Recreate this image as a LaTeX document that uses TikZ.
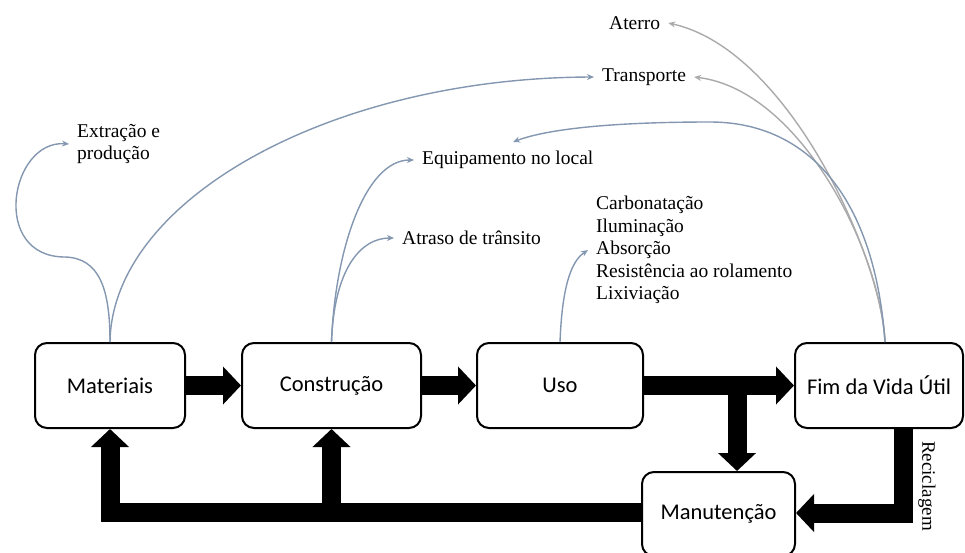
\documentclass[tikz,border=0pt]{standalone}
\usepackage{fontspec}
\setmainfont{Liberation Serif}
\newfontfamily\boxfont{Carlito}
\usetikzlibrary{arrows.meta}
\definecolor{linkblue}{RGB}{132,151,176}
\definecolor{linkgray}{RGB}{170,170,172}

\begin{document}
\begin{tikzpicture}[x=1pt,y=-1pt,
  stage/.style={draw=black, line width=2pt, rounded corners=12pt, fill=white,
    minimum height=85pt, inner sep=0pt, font=\boxfont\fontsize{22.5}{27}\selectfont},
  lbl/.style={inner xsep=8pt, inner ysep=0pt, font=\fontsize{19.5}{22.5}\selectfont},
  flow/.style={line width=19pt, line join=miter, -{Triangle[length=18pt,width=37pt]}},
  link/.style={line width=1.4pt, draw=linkblue, -{Stealth[length=7pt,width=6pt]}},
]
\useasboundingbox (0,0) rectangle (965,552);
\clip (0,0) rectangle (965,552);

% life-cycle stages
\node[stage, minimum width=150pt] (mat) at (110,385.5) {Materiais};
\node[stage, minimum width=179pt] (con) at (331.5,385.5) {Construção};
\node[stage, minimum width=166pt] (uso) at (560,385.5) {Uso};
\node[stage, minimum width=168pt] (fim) at (879,385.5) {Fim da Vida Útil};
\node[stage, minimum width=153pt, minimum height=84pt] (man) at (718.5,514) {Manutenção};

% main flow
\draw[flow] (mat.east) -- (con.west);
\draw[flow] (con.east) -- (uso.west);
\draw[flow] (uso.east) -- (fim.west);
\coordinate (split) at (737,385.5);
\draw[flow] (split) -- (split |- man.north);
\draw[flow] ([xshift=24pt]fim.south) |- ([yshift=1pt]man.east);
\draw[flow] ([yshift=1.5pt]man.west) -| (mat.south);
\draw[flow] (con.south |- 0,512.5) -- (con.south);
\node[lbl, rotate=-90, font=\fontsize{19}{22}\selectfont] (rec) at (927,486) {Reciclagem};

% impact labels
\node[lbl, anchor=west, align=left] (ext) at (69,144) {Extração e\\produção};
\node[lbl, anchor=west] (ate) at (601,23) {Aterro};
\node[lbl, anchor=west] (tr) at (594,77) {Transporte};
\node[lbl, anchor=west] (eq) at (414,160) {Equipamento no local};
\node[lbl, anchor=west] (atr) at (394,238) {Atraso de trânsito};
\node[lbl, anchor=north west, align=left] (lst) at (588,196)
  {Carbonatação\\Iluminação\\Absorção\\Resistência ao rolamento\\Lixiviação};

% links from stages to impacts
\coordinate (fimtop) at ([xshift=6pt]fim.north);
\coordinate (eqtop) at (513,142);
\draw[link] (mat.north) .. controls (110,290) and (100,258) .. (65,257)
  .. controls (-10,257) and (10,140) .. (ext.west);
\draw[link] (mat.north) .. controls (112,200) and (330,78) .. (tr.west);
\draw[link] (con.north) .. controls (335,250) and (365,160) .. (eq.west);
\draw[link] (con.north) .. controls (334,270) and (360,238) .. (atr.west);
\draw[link] (uso.north) .. controls (562,290) and (570,262) .. (lst.west);
\draw[link, draw=linkgray] (fimtop) .. controls (882,260) and (790,50) .. (ate.east);
\draw[link, draw=linkgray] (fimtop) .. controls (880,250) and (800,90) .. (tr.east);
\draw[link] (fimtop) .. controls (875,200) and (810,122) .. (710,122)
  .. controls (620,122) and (550,128) .. (eqtop);
\end{tikzpicture}
\end{document}
